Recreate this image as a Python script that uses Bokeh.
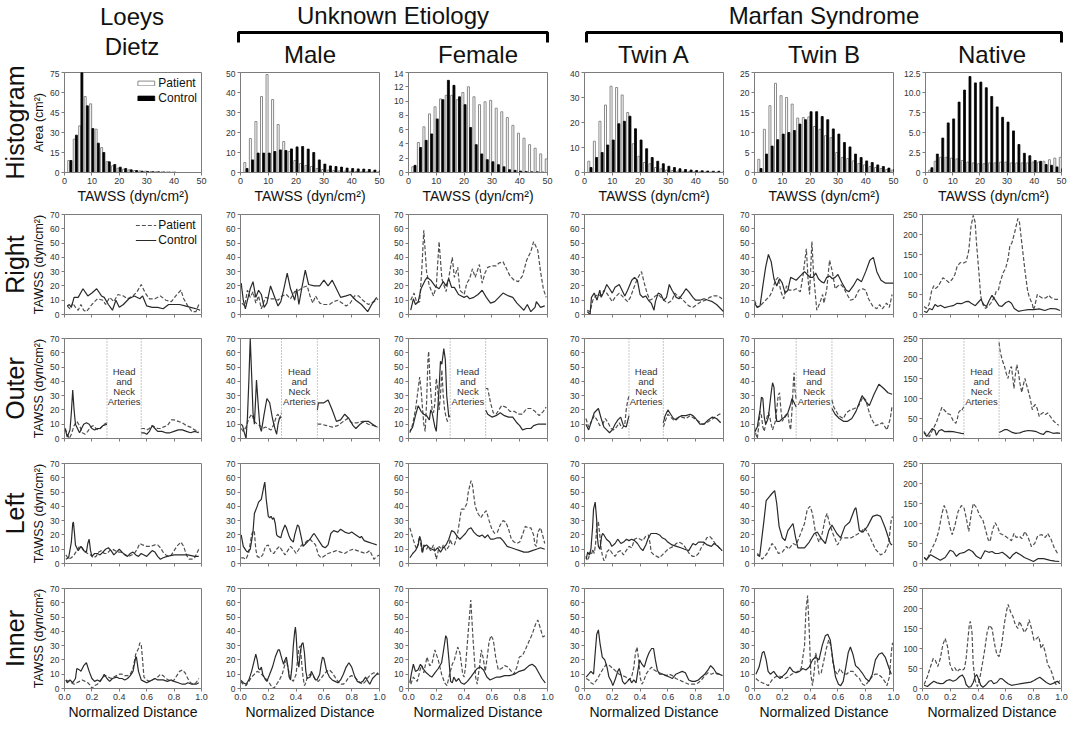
import math
from bokeh.plotting import figure
from bokeh.layouts import row, column
from bokeh.models import Range1d, FixedTicker, Span, Legend, LegendItem, PrintfTickFormatter
from bokeh.embed import file_html
from bokeh.resources import INLINE
from bokeh.core.properties import value

FONT = "Liberation Sans"

# ---------------------------------------------------------------- text
col_titles = ["Loeys Dietz", "Male", "Female", "Twin A", "Twin B", "Native"]
group_titles = ["Unknown Etiology", "Marfan Syndrome"]
row_titles = ["Histogram", "Right", "Outer", "Left", "Inner"]
series_names = ["Patient", "Control"]
hist_xlabel = "TAWSS (dyn/cm\u00b2)"
hist_ylabel = "Area (cm\u00b2)"
line_ylabel = "TAWSS (dyn/cm\u00b2)"
line_xlabel = "Normalized Distance"
gap_label = ["Head", "and", "Neck", "Arteries"]

# ---------------------------------------------------------------- histograms
tawss_bins = [2, 4, 6, 8, 10, 12, 14, 16, 18, 20, 22, 24, 26, 28, 30,
              32, 34, 36, 38, 40, 42, 44, 46, 48, 50]
hist_xticks = [0, 10, 20, 30, 40, 50]

hist_ld_patient = [9, 25, 35, 57, 51.5, 32.5, 18.7, 8.2, 5, 3.2, 2.5, 2, 1.5, 1.2, 1,
                   0.8, 0.6, 0.5, 0.4, 0.3, 0, 0, 0, 0, 0]
hist_ld_control = [9, 28, 75, 50, 33, 22, 15, 8, 6, 4, 3, 2, 1.5, 1, 0.8,
                   0.6, 0.5, 0.4, 0.3, 0.2, 0, 0, 0, 0, 0]
hist_male_patient = [5, 17, 25.5, 38, 49, 36.5, 24, 15.5, 10.5, 6, 4.5, 3.5, 3, 2, 1.5,
                     1.2, 1, 0.8, 0.7, 0.6, 0.5, 0.4, 0.4, 0.3, 0.3]
hist_male_control = [2, 6.3, 9.7, 9.7, 9.7, 10.5, 11.3, 11, 11.8, 12.8, 13, 11.7, 10, 6.3, 4.2,
                     3.3, 3, 2.7, 2.2, 2, 1.8, 1.7, 1.5, 1.2, 1.0]
hist_female_patient = [0.8, 4.2, 6.4, 8.2, 9.2, 10.3, 10.8, 10.8, 10.2, 11.2, 12, 10.6, 9.5, 9.9, 10.1,
                       9, 8.5, 7.7, 6.6, 5.5, 4.8, 3.9, 3.4, 2.6, 1.9]
hist_female_control = [1, 3.5, 4.5, 5.4, 7.5, 10.2, 12.9, 12.2, 10.6, 9.5, 6.3, 3.9, 2.6, 1.8, 1.5,
                       1.1, 0.8, 0.4, 0.3, 0.2, 0.15, 0.1, 0.1, 0.05, 0]
hist_twina_patient = [4.5, 12.5, 20.5, 27, 34.5, 34, 31, 24, 11.5, 6.5, 4, 3.5, 2, 1.5, 1,
                      0.8, 0.6, 0.5, 0.4, 0.3, 0.3, 0.2, 0.2, 0.1, 0.1]
hist_twina_control = [2, 6, 8, 11, 13, 19.5, 20.5, 22.5, 17.5, 13, 9.5, 6, 4.5, 3.5, 2.5,
                      2, 1.5, 1.2, 1, 0.8, 0.7, 0.6, 0.5, 0.5, 0.4]
hist_twinb_patient = [3.3, 10.8, 16.7, 22.3, 19.2, 18.75, 17.1, 13.6, 13.75, 13.9, 11.5, 10.8, 9.2, 8.7, 5,
                      3.75, 3.5, 2.9, 2.25, 1.9, 1.5, 1.25, 1, 0.75, 0.6]
hist_twinb_control = [1, 4.6, 6.6, 8.2, 9.6, 10, 10.5, 12.1, 13.2, 15.2, 15.2, 14, 13.2, 10.9, 9.6,
                      7.5, 6.4, 4.6, 3.75, 2.9, 2.5, 1.9, 1.5, 1.1, 0.8]
hist_native_patient = [0.3, 1.4, 1.9, 1.9, 1.8, 1.7, 1.5, 1.3, 1.2, 1.1, 1.1, 1.2, 1.2, 1.3, 1.3,
                       1.2, 1.2, 1.2, 1.2, 1.3, 1.3, 1.4, 1.6, 1.8, 1.9]
hist_native_control = [0.6, 2.3, 4.3, 6.2, 6.7, 8.8, 10.3, 12.0, 11.2, 11.3, 10.6, 9.5, 8.2, 6.9, 6.3,
                       5.2, 3.5, 2.4, 2.1, 1.5, 1.4, 1.0, 0.9, 0.7, 0.5]

hist_ymax = [75, 50, 14, 40, 25, 12.5]
hist_yticks = [[0, 15, 30, 45, 60, 75], [0, 10, 20, 30, 40, 50],
               [0, 2, 4, 6, 8, 10, 12, 14], [0, 10, 20, 30, 40],
               [0, 5, 10, 15, 20, 25], [0, 2.5, 5, 7.5, 10, 12.5]]

# ---------------------------------------------------------------- profiles
dist_xticks = [0, 0.2, 0.4, 0.6, 0.8, 1.0]
line_ymax = [70, 70, 70, 70, 70, 250]
line_yticks = [[0, 10, 20, 30, 40, 50, 60, 70]] * 5 + [[0, 50, 100, 150, 200, 250]]
gap_start = [0.31, 0.295, 0.30, 0.32, 0.30, 0.298]
gap_end = [0.56, 0.553, 0.555, 0.567, 0.557, 0.551]

# Right
right_ld_pat = [(0.02,6),(0.04,4),(0.06,8),(0.08,5),(0.1,3),(0.12,7),(0.14,3),(0.16,2),(0.2,7),(0.24,11),(0.28,10),(0.3,7),(0.33,12),(0.36,9),(0.39,14),(0.43,13),(0.46,11),(0.5,13),(0.53,16),(0.56,21),(0.59,15),(0.62,11),(0.66,11),(0.7,13),(0.74,10),(0.78,9),(0.82,14),(0.85,17),(0.87,11),(0.9,6),(0.93,2),(0.96,2),(0.98,7)]
right_ld_ctl = [(0.02,6),(0.035,7),(0.05,5),(0.07,12),(0.1,12),(0.135,18),(0.17,13),(0.2,15),(0.235,18),(0.27,13),(0.29,12),(0.32,7),(0.35,3),(0.375,10),(0.4,5),(0.43,7),(0.47,11),(0.51,13),(0.55,11),(0.57,13),(0.6,6),(0.64,5),(0.68,5),(0.72,4),(0.76,7),(0.8,7),(0.84,7),(0.88,6),(0.92,5),(0.96,4),(0.99,3)]
right_male_pat = [(0.01,8),(0.03,6),(0.05,17),(0.07,12),(0.09,16),(0.11,8),(0.13,13),(0.15,4),(0.18,12),(0.21,11),(0.24,11),(0.27,10),(0.3,13),(0.33,14),(0.36,11),(0.39,16),(0.42,17),(0.45,19),(0.48,20),(0.5,13),(0.52,8),(0.54,13),(0.57,8),(0.6,7),(0.64,7),(0.67,9),(0.7,10),(0.73,8),(0.76,6),(0.79,8),(0.82,13),(0.85,13),(0.88,10),(0.92,7),(0.96,9),(0.99,11)]
right_male_ctl = [(0.005,22),(0.02,10),(0.035,4),(0.05,10),(0.07,18),(0.09,23),(0.11,12),(0.13,17),(0.15,14),(0.17,5),(0.19,8),(0.216,20),(0.25,11),(0.27,6),(0.29,9),(0.31,17),(0.336,29),(0.36,18),(0.39,10),(0.405,18),(0.42,7),(0.44,18),(0.466,31),(0.49,21),(0.53,20),(0.57,20),(0.6,24),(0.63,20),(0.66,24),(0.69,18),(0.72,12),(0.76,13),(0.79,14),(0.83,10),(0.87,7),(0.915,2),(0.95,8),(0.98,12)]
right_female_pat = [(0.016,10),(0.04,15),(0.06,8),(0.08,9),(0.095,30),(0.11,59),(0.13,30),(0.15,20),(0.18,13),(0.2,20),(0.22,51),(0.24,25),(0.27,16),(0.29,26),(0.315,40),(0.33,26),(0.354,33),(0.37,17),(0.4,14),(0.42,22),(0.44,25),(0.46,32),(0.48,26),(0.51,35),(0.53,22),(0.55,29),(0.57,33),(0.6,34),(0.63,34),(0.65,36),(0.68,37),(0.7,33),(0.73,27),(0.76,24),(0.79,23),(0.82,27),(0.85,38),(0.88,44),(0.9,51),(0.93,45),(0.95,30),(0.97,18),(0.99,12)]
right_female_ctl = [(0.016,3),(0.035,11),(0.05,7),(0.07,9),(0.09,18),(0.12,24),(0.135,26),(0.16,24),(0.19,20),(0.22,18),(0.25,23),(0.27,20),(0.29,25),(0.31,19),(0.33,19),(0.36,14),(0.38,13),(0.4,12),(0.42,13),(0.44,11),(0.47,12),(0.5,14),(0.53,17),(0.56,12),(0.59,8),(0.62,9),(0.65,12),(0.68,15),(0.72,13),(0.75,12),(0.78,8),(0.81,5),(0.83,3),(0.855,7),(0.88,2),(0.91,5),(0.92,9),(0.95,5),(0.98,6)]
right_twina_pat = [(0.02,3),(0.04,2),(0.06,10),(0.08,13),(0.1,14),(0.12,13),(0.14,17),(0.16,15),(0.18,12),(0.2,9),(0.22,12),(0.25,15),(0.27,13),(0.29,11),(0.31,9),(0.33,12),(0.36,20),(0.38,25),(0.41,30),(0.43,22),(0.45,15),(0.47,10),(0.49,11),(0.51,13),(0.53,14),(0.55,12),(0.57,10),(0.6,8),(0.63,10),(0.65,15),(0.67,13),(0.7,11),(0.72,9),(0.75,6),(0.78,5),(0.81,7),(0.84,9),(0.87,10),(0.9,12),(0.93,13),(0.96,13),(0.99,11)]
right_twina_ctl = [(0.02,2),(0.04,0),(0.05,12),(0.07,15),(0.09,10),(0.11,17),(0.12,12),(0.14,16),(0.16,21),(0.18,18),(0.2,15),(0.22,19),(0.25,21),(0.27,17),(0.29,13),(0.31,17),(0.34,24),(0.36,26),(0.38,24),(0.4,14),(0.42,12),(0.44,13),(0.46,10),(0.48,8),(0.5,3),(0.51,9),(0.53,15),(0.55,14),(0.57,10),(0.59,12),(0.61,21),(0.63,17),(0.66,12),(0.68,11),(0.71,15),(0.73,18),(0.75,16),(0.78,12),(0.8,10),(0.83,10),(0.86,11),(0.89,10),(0.92,9),(0.95,7),(0.98,4),(1.0,2)]
right_twinb_pat = [(0.0,10),(0.02,5),(0.05,7),(0.08,10),(0.11,13),(0.13,17),(0.15,24),(0.17,26),(0.19,16),(0.21,11),(0.23,20),(0.25,17),(0.28,17),(0.3,18),(0.33,16),(0.35,28),(0.373,46),(0.385,25),(0.396,14),(0.413,51),(0.425,28),(0.448,3),(0.47,8),(0.49,14),(0.5,8),(0.52,18),(0.54,38),(0.56,30),(0.58,18),(0.6,20),(0.62,21),(0.64,19),(0.66,15),(0.69,10),(0.72,11),(0.75,17),(0.78,18),(0.8,17),(0.82,11),(0.85,6),(0.88,4),(0.9,7),(0.92,4),(0.95,8),(0.97,5),(0.99,14)]
right_twinb_ctl = [(0.0,8),(0.02,5),(0.04,6),(0.06,20),(0.08,33),(0.1,42),(0.12,37),(0.14,25),(0.16,20),(0.18,25),(0.2,22),(0.22,15),(0.24,17),(0.26,26),(0.28,25),(0.3,24),(0.33,27),(0.36,30),(0.38,28),(0.4,26),(0.42,26),(0.44,29),(0.46,25),(0.48,23),(0.5,22),(0.52,26),(0.54,27),(0.56,25),(0.58,26),(0.6,28),(0.63,22),(0.66,17),(0.68,16),(0.71,20),(0.74,25),(0.77,23),(0.8,30),(0.83,38),(0.855,40),(0.88,30),(0.91,24),(0.94,22),(0.97,22),(1.0,22)]
right_native_pat = [(0.012,20),(0.028,15),(0.047,25),(0.065,58),(0.081,72),(0.093,65),(0.112,70),(0.128,80),(0.147,92),(0.167,87),(0.19,80),(0.214,88),(0.233,100),(0.249,120),(0.272,130),(0.291,128),(0.314,132),(0.333,160),(0.349,220),(0.365,248),(0.379,230),(0.388,180),(0.407,100),(0.419,45),(0.435,25),(0.453,15),(0.477,22),(0.495,30),(0.519,45),(0.53,58),(0.547,62),(0.558,80),(0.581,105),(0.598,115),(0.616,140),(0.628,170),(0.644,180),(0.663,205),(0.686,240),(0.698,230),(0.714,180),(0.737,110),(0.756,60),(0.767,45),(0.791,25),(0.798,12),(0.807,20),(0.826,50),(0.844,45),(0.867,40),(0.891,42),(0.907,48),(0.926,42),(0.953,38),(0.988,38)]
right_native_ctl = [(0.012,8),(0.03,5),(0.05,15),(0.07,12),(0.09,25),(0.11,20),(0.13,23),(0.16,17),(0.19,20),(0.22,22),(0.25,28),(0.28,27),(0.31,32),(0.33,33),(0.35,28),(0.38,22),(0.4,30),(0.42,38),(0.44,25),(0.46,20),(0.48,35),(0.5,48),(0.52,38),(0.55,22),(0.57,20),(0.6,30),(0.62,33),(0.64,28),(0.66,15),(0.69,8),(0.72,10),(0.76,12),(0.8,12),(0.84,14),(0.88,10),(0.92,15),(0.96,14),(0.99,10)]

# Outer (head and neck arteries gap between gap_start and gap_end)
outer_ld_pat = [(0.005,7),(0.02,3),(0.035,0),(0.05,3),(0.07,9),(0.09,12),(0.11,9),(0.13,4),(0.15,3),(0.17,5),(0.19,8),(0.21,9),(0.23,7),(0.25,6),(0.27,8),(0.29,10),(0.31,11),(0.56,7),(0.58,7),(0.6,6),(0.62,7),(0.64,9),(0.66,8),(0.68,7),(0.7,7),(0.72,8),(0.75,9),(0.78,13),(0.8,13),(0.83,12),(0.86,11),(0.89,9),(0.92,8),(0.95,6),(0.98,5)]
outer_ld_ctl = [(0.005,7),(0.02,1),(0.04,6),(0.05,18),(0.06,34),(0.07,20),(0.08,10),(0.1,6),(0.11,4),(0.13,8),(0.14,10),(0.16,11),(0.18,10),(0.2,7),(0.22,6),(0.24,7),(0.26,7),(0.28,9),(0.31,10),(0.56,4),(0.58,4),(0.6,3),(0.62,5),(0.64,9),(0.66,7),(0.68,5),(0.71,5),(0.74,4),(0.77,4),(0.8,5),(0.83,6),(0.86,6),(0.89,5),(0.92,4),(0.95,5),(0.98,4)]
outer_male_pat = [(0.005,7),(0.02,5),(0.04,8),(0.06,14),(0.08,17),(0.1,12),(0.12,10),(0.14,9),(0.16,7),(0.18,8),(0.2,7),(0.22,6),(0.24,10),(0.26,16),(0.27,17),(0.28,14),(0.295,18),(0.553,10),(0.58,10),(0.62,9),(0.66,8),(0.7,9),(0.74,12),(0.77,14),(0.8,11),(0.84,11),(0.88,12),(0.92,10),(0.96,9),(0.99,8)]
outer_male_ctl = [(0.005,10),(0.015,9),(0.025,5),(0.04,0),(0.05,15),(0.06,40),(0.07,70),(0.08,45),(0.09,18),(0.1,10),(0.11,30),(0.115,41),(0.13,20),(0.14,8),(0.15,5),(0.17,17),(0.19,28),(0.21,25),(0.23,14),(0.25,6),(0.26,3),(0.27,10),(0.28,14),(0.295,15),(0.553,20),(0.56,25),(0.6,25),(0.63,27),(0.66,20),(0.69,12),(0.72,13),(0.75,17),(0.78,14),(0.81,9),(0.83,7),(0.86,10),(0.89,12),(0.92,12),(0.95,10),(0.98,8)]
outer_female_pat = [(0.01,4),(0.03,10),(0.05,20),(0.07,35),(0.08,43),(0.09,35),(0.1,22),(0.11,10),(0.12,5),(0.13,25),(0.14,55),(0.145,61),(0.155,40),(0.17,20),(0.18,18),(0.19,25),(0.2,42),(0.21,35),(0.22,20),(0.23,30),(0.24,48),(0.25,30),(0.26,20),(0.27,15),(0.28,12),(0.3,13),(0.555,35),(0.57,35),(0.59,25),(0.61,18),(0.63,17),(0.65,20),(0.67,23),(0.7,22),(0.73,19),(0.76,19),(0.79,17),(0.82,17),(0.85,21),(0.88,21),(0.91,19),(0.94,16),(0.97,19),(0.99,22)]
outer_female_ctl = [(0.01,5),(0.03,8),(0.05,16),(0.07,23),(0.09,19),(0.11,17),(0.13,16),(0.15,13),(0.16,20),(0.17,18),(0.19,8),(0.2,5),(0.22,35),(0.23,54),(0.24,52),(0.254,63),(0.265,55),(0.275,30),(0.285,20),(0.29,15),(0.3,16),(0.555,20),(0.57,17),(0.6,15),(0.63,16),(0.66,18),(0.69,16),(0.72,15),(0.75,15),(0.78,11),(0.8,9),(0.82,6),(0.85,7),(0.88,7),(0.9,9),(0.93,10),(0.96,10),(0.99,10)]
outer_twina_pat = [(0.01,14),(0.03,8),(0.05,12),(0.07,16),(0.09,13),(0.11,9),(0.13,10),(0.15,14),(0.17,11),(0.19,7),(0.21,6),(0.23,8),(0.25,11),(0.27,7),(0.29,10),(0.3,20),(0.31,26),(0.32,30),(0.567,8),(0.58,12),(0.6,17),(0.62,15),(0.64,13),(0.66,14),(0.68,15),(0.7,15),(0.73,14),(0.76,16),(0.79,14),(0.82,12),(0.85,10),(0.88,11),(0.91,13),(0.94,15),(0.97,17),(0.99,17)]
outer_twina_ctl = [(0.01,10),(0.03,6),(0.05,12),(0.07,18),(0.1,21),(0.12,14),(0.14,8),(0.16,6),(0.18,4),(0.2,6),(0.22,10),(0.24,13),(0.26,15),(0.28,9),(0.3,8),(0.31,12),(0.32,16),(0.567,11),(0.58,16),(0.6,20),(0.62,17),(0.64,14),(0.66,13),(0.68,15),(0.7,16),(0.73,16),(0.76,17),(0.78,16),(0.8,14),(0.83,10),(0.86,10),(0.89,13),(0.92,15),(0.95,14),(0.98,11)]
outer_twinb_pat = [(0.0,8),(0.01,3),(0.02,0),(0.03,8),(0.04,19),(0.05,16),(0.06,8),(0.07,5),(0.08,10),(0.09,15),(0.1,18),(0.11,15),(0.12,10),(0.13,6),(0.15,12),(0.16,20),(0.17,30),(0.18,32),(0.19,20),(0.2,12),(0.22,16),(0.24,18),(0.25,10),(0.26,6),(0.27,20),(0.28,40),(0.285,46),(0.29,35),(0.3,27),(0.557,27),(0.57,22),(0.6,17),(0.62,15),(0.64,14),(0.66,18),(0.69,20),(0.72,21),(0.75,23),(0.78,29),(0.8,27),(0.82,20),(0.84,14),(0.87,9),(0.9,10),(0.92,11),(0.953,6),(0.977,14),(0.99,23)]
outer_twinb_ctl = [(0.0,4),(0.02,8),(0.04,20),(0.05,29),(0.06,28),(0.07,15),(0.08,10),(0.09,12),(0.1,15),(0.12,32),(0.13,39),(0.14,36),(0.15,20),(0.16,12),(0.18,12),(0.2,14),(0.22,15),(0.24,18),(0.26,24),(0.27,28),(0.28,26),(0.3,22),(0.557,21),(0.58,17),(0.61,14),(0.64,12),(0.67,12),(0.7,14),(0.73,19),(0.75,24),(0.774,30),(0.8,26),(0.826,23),(0.86,31),(0.895,38),(0.93,35),(0.96,32),(0.99,31)]
outer_native_pat = [(0.01,18),(0.03,8),(0.05,5),(0.07,20),(0.1,40),(0.12,60),(0.14,78),(0.16,70),(0.18,62),(0.2,60),(0.22,45),(0.24,38),(0.25,48),(0.26,65),(0.27,70),(0.28,68),(0.29,75),(0.298,80),(0.551,240),(0.56,215),(0.575,195),(0.59,180),(0.605,160),(0.615,150),(0.63,175),(0.64,180),(0.65,150),(0.658,125),(0.668,160),(0.679,185),(0.69,165),(0.7,140),(0.714,115),(0.726,135),(0.737,150),(0.748,135),(0.76,120),(0.775,100),(0.79,72),(0.8,80),(0.812,85),(0.825,75),(0.84,55),(0.855,62),(0.87,65),(0.885,60),(0.9,64),(0.92,55),(0.94,45),(0.96,38),(0.98,33)]
outer_native_ctl = [(0.01,15),(0.03,5),(0.05,15),(0.07,25),(0.09,20),(0.1,8),(0.12,20),(0.14,22),(0.16,17),(0.19,18),(0.22,17),(0.25,15),(0.28,13),(0.298,12),(0.551,15),(0.57,18),(0.59,22),(0.61,22),(0.64,16),(0.67,13),(0.7,14),(0.73,18),(0.76,20),(0.79,19),(0.82,17),(0.85,12),(0.87,10),(0.89,18),(0.91,17),(0.94,13),(0.97,14),(0.99,13)]

# Left
left_ld_pat = [(0.01,6),(0.03,3),(0.05,4),(0.07,6),(0.09,9),(0.11,12),(0.13,11),(0.15,8),(0.17,7),(0.19,6),(0.21,4),(0.23,5),(0.25,8),(0.27,9),(0.29,7),(0.31,7),(0.33,9),(0.35,10),(0.37,9),(0.39,8),(0.41,8),(0.43,7),(0.45,6),(0.47,5),(0.49,6),(0.51,7),(0.53,10),(0.55,14),(0.57,13),(0.6,12),(0.63,12),(0.66,13),(0.68,13),(0.7,11),(0.72,8),(0.74,6),(0.76,5),(0.78,6),(0.8,9),(0.82,12),(0.85,15),(0.87,12),(0.89,6),(0.91,3),(0.93,3),(0.95,4),(0.97,8),(0.98,10)]
left_ld_ctl = [(0.01,3),(0.03,4),(0.05,15),(0.06,28),(0.065,29),(0.072,22),(0.08,13),(0.1,9),(0.12,12),(0.14,9),(0.16,8),(0.17,14),(0.18,17),(0.19,9),(0.2,5),(0.22,7),(0.24,7),(0.26,6),(0.28,8),(0.3,10),(0.32,11),(0.34,9),(0.36,6),(0.38,8),(0.4,10),(0.42,8),(0.44,6),(0.46,5),(0.48,7),(0.5,8),(0.52,6),(0.54,5),(0.56,7),(0.58,6),(0.6,5),(0.62,7),(0.64,9),(0.66,8),(0.68,5),(0.7,3),(0.72,4),(0.75,5),(0.8,6),(0.85,6),(0.9,6),(0.95,5),(0.98,5)]
left_male_pat = [(0.005,4),(0.02,4),(0.04,3),(0.06,8),(0.08,20),(0.09,23),(0.1,22),(0.11,10),(0.12,5),(0.14,4),(0.16,6),(0.18,12),(0.2,13),(0.22,8),(0.24,7),(0.26,10),(0.28,12),(0.3,9),(0.32,6),(0.34,9),(0.36,12),(0.38,10),(0.4,7),(0.42,10),(0.44,13),(0.46,14),(0.48,16),(0.5,17),(0.52,15),(0.54,13),(0.56,6),(0.58,4),(0.6,5),(0.63,7),(0.66,8),(0.69,9),(0.72,8),(0.75,7),(0.78,9),(0.81,10),(0.84,9),(0.87,8),(0.9,7),(0.93,9),(0.96,3),(0.98,5),(1.0,6)]
left_male_ctl = [(0.005,20),(0.02,12),(0.04,9),(0.05,8),(0.07,10),(0.09,22),(0.1,35),(0.12,40),(0.13,43),(0.15,45),(0.17,55),(0.175,57),(0.185,45),(0.2,33),(0.21,32),(0.22,33),(0.23,31),(0.24,32),(0.25,28),(0.26,20),(0.27,19),(0.29,18),(0.3,22),(0.32,27),(0.33,25),(0.35,19),(0.36,17),(0.38,15),(0.39,20),(0.41,27),(0.42,26),(0.44,17),(0.45,12),(0.47,14),(0.49,16),(0.5,17),(0.52,20),(0.53,21),(0.55,18),(0.57,15),(0.59,12),(0.61,11),(0.63,13),(0.65,21),(0.67,23),(0.7,22),(0.72,24),(0.75,22),(0.78,21),(0.8,22),(0.83,20),(0.86,18),(0.87,19),(0.89,16),(0.92,15),(0.95,14),(0.98,13)]
left_female_pat = [(0.01,25),(0.03,18),(0.05,12),(0.06,10),(0.07,15),(0.08,19),(0.09,12),(0.1,7),(0.11,13),(0.13,10),(0.14,12),(0.16,9),(0.18,13),(0.2,3),(0.21,7),(0.22,12),(0.24,10),(0.25,13),(0.27,9),(0.29,12),(0.3,17),(0.31,14),(0.33,13),(0.35,19),(0.36,25),(0.38,38),(0.4,38),(0.42,42),(0.43,50),(0.45,58),(0.46,55),(0.48,40),(0.5,35),(0.52,32),(0.54,35),(0.56,37),(0.58,30),(0.6,24),(0.62,21),(0.64,22),(0.66,27),(0.68,30),(0.7,29),(0.72,24),(0.74,17),(0.76,15),(0.78,14),(0.8,15),(0.82,20),(0.84,26),(0.86,25),(0.88,25),(0.9,20),(0.91,13),(0.92,12),(0.93,22),(0.95,25),(0.97,18),(0.98,14)]
left_female_ctl = [(0.01,4),(0.03,7),(0.05,9),(0.07,13),(0.08,19),(0.09,16),(0.1,8),(0.11,12),(0.13,13),(0.15,11),(0.17,10),(0.19,9),(0.21,11),(0.23,8),(0.25,11),(0.27,13),(0.29,17),(0.31,23),(0.33,22),(0.35,19),(0.37,17),(0.39,19),(0.41,21),(0.43,24),(0.45,25),(0.47,22),(0.49,20),(0.51,19),(0.53,20),(0.55,18),(0.57,20),(0.59,17),(0.61,17),(0.64,18),(0.66,18),(0.68,16),(0.71,12),(0.74,11),(0.77,10),(0.8,9),(0.83,8),(0.86,8),(0.89,9),(0.92,10),(0.95,11),(0.98,10)]
left_twina_pat = [(0.01,5),(0.02,2),(0.03,4),(0.04,8),(0.05,6),(0.06,10),(0.07,7),(0.08,14),(0.09,29),(0.1,29),(0.11,20),(0.12,10),(0.13,5),(0.14,2),(0.15,3),(0.16,8),(0.18,10),(0.2,7),(0.22,5),(0.24,8),(0.26,9),(0.28,6),(0.3,9),(0.32,12),(0.34,11),(0.36,17),(0.38,18),(0.4,17),(0.42,16),(0.44,19),(0.46,20),(0.47,15),(0.48,8),(0.5,6),(0.52,5),(0.54,4),(0.56,6),(0.58,8),(0.6,10),(0.62,11),(0.64,12),(0.66,14),(0.68,15),(0.7,14),(0.72,12),(0.74,9),(0.76,6),(0.78,5),(0.8,5),(0.82,7),(0.84,11),(0.86,14),(0.88,18),(0.9,19),(0.92,17),(0.94,14),(0.96,12),(0.98,10),(0.99,9)]
left_twina_ctl = [(0.012,3),(0.023,8),(0.035,6),(0.046,10),(0.058,25),(0.065,38),(0.077,43),(0.088,30),(0.093,18),(0.1,12),(0.111,10),(0.123,19),(0.13,21),(0.14,20),(0.158,17),(0.181,15),(0.197,12),(0.22,14),(0.239,17),(0.262,14),(0.281,15),(0.302,17),(0.32,16),(0.339,17),(0.36,16),(0.381,14),(0.401,11),(0.42,9),(0.441,13),(0.46,18),(0.478,21),(0.499,21),(0.517,21),(0.54,20),(0.559,18),(0.58,17),(0.599,15),(0.63,13),(0.662,12),(0.693,11),(0.72,10),(0.75,9),(0.78,14),(0.8,13),(0.82,15),(0.855,15),(0.883,13),(0.913,12),(0.932,14),(0.96,12),(0.99,9)]
left_twinb_pat = [(0.02,7),(0.056,3),(0.09,7),(0.126,14),(0.145,12),(0.172,7),(0.2,8),(0.23,12),(0.247,10),(0.277,14),(0.3,13),(0.324,19),(0.36,28),(0.38,38),(0.4,40),(0.417,35),(0.44,21),(0.464,15),(0.487,21),(0.51,32),(0.522,35),(0.54,28),(0.564,21),(0.597,13),(0.627,18),(0.662,18),(0.697,18),(0.73,20),(0.767,22),(0.79,25),(0.813,22),(0.837,17),(0.87,10),(0.907,6),(0.94,8),(0.965,14),(0.983,30),(0.993,33)]
left_twinb_ctl = [(0.02,6),(0.037,5),(0.068,30),(0.084,44),(0.1,46),(0.126,49),(0.145,51),(0.16,42),(0.177,26),(0.2,18),(0.22,16),(0.24,23),(0.277,28),(0.294,19),(0.312,11),(0.36,11),(0.394,15),(0.43,21),(0.452,22),(0.476,18),(0.51,14),(0.534,23),(0.557,27),(0.592,21),(0.62,18),(0.65,26),(0.685,29),(0.72,38),(0.73,39),(0.755,23),(0.78,22),(0.813,26),(0.85,33),(0.884,34),(0.907,33),(0.94,25),(0.977,14),(0.99,13)]
left_native_pat = [(0.012,15),(0.03,8),(0.058,30),(0.093,55),(0.116,80),(0.14,125),(0.156,145),(0.174,130),(0.198,90),(0.214,72),(0.233,95),(0.256,130),(0.28,145),(0.298,140),(0.314,115),(0.333,80),(0.349,120),(0.365,150),(0.388,140),(0.412,120),(0.435,108),(0.453,85),(0.472,60),(0.486,55),(0.505,85),(0.523,102),(0.542,90),(0.558,75),(0.588,70),(0.616,63),(0.64,57),(0.658,75),(0.674,65),(0.698,68),(0.714,62),(0.737,80),(0.76,65),(0.784,42),(0.807,50),(0.83,70),(0.86,72),(0.884,65),(0.9,75),(0.923,62),(0.947,40),(0.977,22)]
left_native_ctl = [(0.012,15),(0.03,10),(0.058,22),(0.093,15),(0.128,8),(0.163,15),(0.198,33),(0.22,30),(0.244,18),(0.267,25),(0.302,28),(0.333,35),(0.36,30),(0.388,18),(0.419,12),(0.449,32),(0.477,28),(0.5,30),(0.523,25),(0.547,25),(0.574,28),(0.605,20),(0.628,12),(0.651,22),(0.674,28),(0.705,22),(0.733,15),(0.767,10),(0.798,5),(0.83,12),(0.872,12),(0.919,8),(0.953,6),(0.984,5)]

# Inner
inner_ld_pat = [(0.01,6),(0.03,5),(0.05,4),(0.07,3),(0.09,4),(0.11,5),(0.13,6),(0.15,5),(0.17,4),(0.19,2),(0.2,0),(0.22,2),(0.24,3),(0.26,5),(0.28,8),(0.3,9),(0.32,8),(0.34,7),(0.36,8),(0.38,9),(0.4,10),(0.42,10),(0.44,9),(0.46,9),(0.48,10),(0.5,14),(0.52,24),(0.54,28),(0.55,32),(0.56,31),(0.57,20),(0.58,8),(0.6,6),(0.62,5),(0.64,6),(0.66,7),(0.68,8),(0.7,10),(0.72,9),(0.74,7),(0.76,6),(0.78,5),(0.8,6),(0.82,9),(0.84,12),(0.86,13),(0.88,11),(0.9,7),(0.92,4),(0.94,3),(0.96,4),(0.98,7)]
inner_ld_ctl = [(0.01,6),(0.02,4),(0.04,6),(0.06,4),(0.08,7),(0.09,14),(0.11,13),(0.12,12),(0.14,16),(0.16,18),(0.18,12),(0.2,7),(0.22,5),(0.24,6),(0.26,5),(0.28,8),(0.29,10),(0.31,7),(0.33,5),(0.35,7),(0.38,8),(0.4,7),(0.42,7),(0.44,6),(0.46,7),(0.48,9),(0.5,12),(0.52,22),(0.525,22),(0.54,12),(0.56,6),(0.58,5),(0.6,4),(0.62,5),(0.64,6),(0.66,7),(0.68,6),(0.7,6),(0.72,6),(0.75,5),(0.78,6),(0.8,5),(0.83,4),(0.86,3),(0.88,3),(0.9,4),(0.93,3),(0.96,3),(0.98,4)]
inner_male_pat = [(0.0,5),(0.02,3),(0.04,2),(0.06,5),(0.08,8),(0.1,10),(0.12,12),(0.14,11),(0.16,9),(0.18,7),(0.2,5),(0.22,2),(0.24,0),(0.26,3),(0.28,6),(0.3,10),(0.32,17),(0.33,20),(0.34,15),(0.36,7),(0.38,5),(0.4,10),(0.41,20),(0.42,28),(0.43,30),(0.44,18),(0.45,8),(0.46,2),(0.47,4),(0.48,8),(0.5,10),(0.52,9),(0.54,6),(0.56,5),(0.58,7),(0.6,10),(0.62,12),(0.64,13),(0.66,11),(0.68,8),(0.7,5),(0.72,3),(0.74,3),(0.76,5),(0.78,8),(0.8,9),(0.82,8),(0.84,6),(0.86,4),(0.88,3),(0.9,5),(0.92,8),(0.94,10),(0.96,11),(0.98,10),(1.0,10)]
inner_male_ctl = [(0.0,6),(0.02,4),(0.04,3),(0.06,6),(0.08,12),(0.1,20),(0.11,24),(0.12,20),(0.13,14),(0.14,13),(0.15,15),(0.16,10),(0.18,6),(0.19,5),(0.21,10),(0.23,15),(0.25,22),(0.27,27),(0.28,27),(0.3,20),(0.31,17),(0.32,20),(0.33,22),(0.34,16),(0.35,8),(0.36,6),(0.37,15),(0.38,30),(0.39,40),(0.395,43),(0.4,38),(0.41,20),(0.42,15),(0.43,25),(0.44,31),(0.45,32),(0.46,25),(0.47,12),(0.48,7),(0.5,8),(0.51,12),(0.52,10),(0.54,6),(0.55,6),(0.57,10),(0.58,17),(0.59,22),(0.6,21),(0.62,12),(0.64,8),(0.66,6),(0.68,5),(0.7,4),(0.72,6),(0.74,10),(0.76,15),(0.78,18),(0.8,15),(0.82,9),(0.84,5),(0.86,4),(0.88,5),(0.9,8),(0.91,6),(0.93,3),(0.95,7),(0.97,9),(0.99,11)]
inner_female_pat = [(0.016,3),(0.035,8),(0.05,6),(0.063,5),(0.086,14),(0.098,16),(0.11,11),(0.133,22),(0.152,16),(0.168,17),(0.19,27),(0.214,20),(0.238,10),(0.26,4),(0.277,2),(0.296,10),(0.315,17),(0.33,20),(0.354,29),(0.37,25),(0.39,10),(0.4,8),(0.41,15),(0.43,40),(0.448,62),(0.464,35),(0.483,8),(0.494,3),(0.51,15),(0.524,27),(0.536,22),(0.552,12),(0.564,20),(0.58,33),(0.594,37),(0.61,34),(0.627,22),(0.646,13),(0.67,14),(0.692,16),(0.716,15),(0.74,12),(0.758,10),(0.78,15),(0.797,22),(0.82,23),(0.844,28),(0.867,33),(0.89,38),(0.914,45),(0.93,48),(0.949,42),(0.967,36),(0.984,37),(0.995,37)]
inner_female_ctl = [(0.01,4),(0.02,10),(0.035,17),(0.05,12),(0.068,13),(0.086,17),(0.105,14),(0.128,11),(0.152,9),(0.168,8),(0.19,11),(0.214,14),(0.238,18),(0.254,28),(0.268,37),(0.277,35),(0.291,20),(0.303,5),(0.315,4),(0.326,8),(0.343,5),(0.361,7),(0.378,4),(0.4,3),(0.424,5),(0.448,8),(0.47,11),(0.494,14),(0.517,15),(0.54,13),(0.564,8),(0.587,6),(0.61,7),(0.634,8),(0.657,8),(0.692,9),(0.727,9),(0.762,10),(0.797,12),(0.832,13),(0.867,16),(0.89,17),(0.914,15),(0.937,11),(0.96,7),(0.984,4)]
inner_twina_pat = [(0.012,7),(0.03,6),(0.046,4),(0.065,3),(0.088,6),(0.111,10),(0.135,14),(0.158,17),(0.181,16),(0.204,14),(0.227,12),(0.25,10),(0.274,9),(0.297,8),(0.32,6),(0.339,8),(0.355,15),(0.367,25),(0.378,29),(0.39,20),(0.4,8),(0.413,3),(0.425,5),(0.443,10),(0.464,13),(0.483,15),(0.501,13),(0.517,12),(0.54,11),(0.564,10),(0.587,9),(0.61,10),(0.633,9),(0.657,7),(0.68,6),(0.703,5),(0.726,4),(0.75,3),(0.773,3),(0.796,3),(0.819,4),(0.842,6),(0.865,9),(0.889,11),(0.912,10),(0.935,11),(0.958,10),(0.981,10)]
inner_twina_ctl = [(0.012,8),(0.03,10),(0.046,12),(0.065,10),(0.077,25),(0.088,38),(0.1,41),(0.111,32),(0.128,22),(0.146,20),(0.162,15),(0.176,8),(0.193,5),(0.204,2),(0.223,7),(0.239,12),(0.25,14),(0.262,10),(0.274,5),(0.29,3),(0.309,5),(0.325,7),(0.339,4),(0.355,6),(0.371,4),(0.385,13),(0.397,20),(0.413,17),(0.43,15),(0.448,21),(0.464,25),(0.483,28),(0.497,28),(0.51,20),(0.524,13),(0.54,10),(0.564,10),(0.587,9),(0.61,8),(0.633,7),(0.657,10),(0.68,11),(0.703,12),(0.726,11),(0.75,6),(0.773,5),(0.796,5),(0.819,6),(0.842,8),(0.865,10),(0.889,13),(0.907,16),(0.928,14),(0.947,11),(0.97,10),(0.993,9)]
inner_twinb_pat = [(0.01,7),(0.033,5),(0.056,4),(0.08,3),(0.1,2),(0.126,6),(0.149,8),(0.172,9),(0.196,8),(0.22,7),(0.243,8),(0.266,10),(0.29,11),(0.312,12),(0.336,14),(0.36,30),(0.37,55),(0.382,65),(0.394,40),(0.405,10),(0.417,2),(0.43,12),(0.44,25),(0.452,20),(0.464,10),(0.48,11),(0.5,20),(0.517,28),(0.534,34),(0.55,30),(0.564,18),(0.58,12),(0.597,10),(0.615,14),(0.634,11),(0.662,10),(0.685,12),(0.708,12),(0.732,9),(0.755,7),(0.778,3),(0.797,2),(0.82,5),(0.844,8),(0.867,10),(0.89,10),(0.914,8),(0.937,5),(0.953,2),(0.97,8),(0.984,25),(0.993,32)]
inner_twinb_ctl = [(0.01,10),(0.033,15),(0.056,25),(0.068,26),(0.084,20),(0.098,12),(0.114,10),(0.138,12),(0.16,9),(0.184,7),(0.207,9),(0.23,11),(0.254,15),(0.277,12),(0.3,11),(0.324,12),(0.347,14),(0.37,13),(0.394,15),(0.417,20),(0.44,22),(0.464,20),(0.487,30),(0.51,37),(0.527,38),(0.545,34),(0.564,20),(0.583,8),(0.604,3),(0.62,2),(0.638,5),(0.657,15),(0.674,25),(0.69,29),(0.708,24),(0.727,16),(0.75,14),(0.774,11),(0.8,7),(0.825,5),(0.848,10),(0.87,20),(0.895,24),(0.918,25),(0.94,22),(0.965,15),(0.984,10)]
inner_native_pat = [(0.012,10),(0.035,30),(0.058,55),(0.077,75),(0.093,70),(0.11,55),(0.128,75),(0.147,110),(0.163,125),(0.18,105),(0.198,60),(0.216,45),(0.233,52),(0.249,42),(0.267,48),(0.286,45),(0.302,50),(0.314,75),(0.326,120),(0.337,160),(0.344,168),(0.356,140),(0.365,60),(0.379,20),(0.395,5),(0.412,25),(0.43,60),(0.449,100),(0.465,140),(0.481,158),(0.5,150),(0.519,110),(0.535,85),(0.551,80),(0.57,110),(0.588,160),(0.605,195),(0.616,210),(0.635,190),(0.651,180),(0.667,160),(0.686,150),(0.698,168),(0.714,155),(0.733,140),(0.751,150),(0.767,172),(0.784,150),(0.802,120),(0.821,125),(0.837,130),(0.853,100),(0.867,110),(0.884,90),(0.9,60),(0.919,50),(0.93,40),(0.947,20),(0.96,10),(0.977,15),(0.988,20)]
inner_native_ctl = [(0.012,8),(0.035,5),(0.058,12),(0.081,18),(0.105,14),(0.128,12),(0.151,13),(0.174,20),(0.198,22),(0.22,18),(0.244,22),(0.267,30),(0.286,34),(0.302,25),(0.314,10),(0.333,3),(0.349,5),(0.365,15),(0.379,30),(0.39,35),(0.402,25),(0.419,8),(0.435,3),(0.453,8),(0.477,18),(0.495,20),(0.512,12),(0.535,15),(0.558,25),(0.574,24),(0.593,18),(0.616,12),(0.64,8),(0.674,10),(0.709,12),(0.744,14),(0.779,16),(0.802,20),(0.826,25),(0.844,28),(0.867,22),(0.891,15),(0.919,10),(0.947,14),(0.97,18),(0.988,12)]

# lookup tables built from the named arrays above
hist_data = [(hist_ld_patient, hist_ld_control), (hist_male_patient, hist_male_control),
             (hist_female_patient, hist_female_control), (hist_twina_patient, hist_twina_control),
             (hist_twinb_patient, hist_twinb_control), (hist_native_patient, hist_native_control)]
line_data = [
    [(right_ld_pat, right_ld_ctl), (right_male_pat, right_male_ctl), (right_female_pat, right_female_ctl),
     (right_twina_pat, right_twina_ctl), (right_twinb_pat, right_twinb_ctl), (right_native_pat, right_native_ctl)],
    [(outer_ld_pat, outer_ld_ctl), (outer_male_pat, outer_male_ctl), (outer_female_pat, outer_female_ctl),
     (outer_twina_pat, outer_twina_ctl), (outer_twinb_pat, outer_twinb_ctl), (outer_native_pat, outer_native_ctl)],
    [(left_ld_pat, left_ld_ctl), (left_male_pat, left_male_ctl), (left_female_pat, left_female_ctl),
     (left_twina_pat, left_twina_ctl), (left_twinb_pat, left_twinb_ctl), (left_native_pat, left_native_ctl)],
    [(inner_ld_pat, inner_ld_ctl), (inner_male_pat, inner_male_ctl), (inner_female_pat, inner_female_ctl),
     (inner_twina_pat, inner_twina_ctl), (inner_twinb_pat, inner_twinb_ctl), (inner_native_pat, inner_native_ctl)],
]

# ---------------------------------------------------------------- layout
PAGE_X0 = 8
STRIP_W = 29
FRAME_W = 139
COL_L = [33, 22, 22, 22, 22, 22]
COL_R = [17, 7, 15, 9, 7, 7]
COL_W = [l + FRAME_W + r for l, r in zip(COL_L, COL_R)]
ROW_H = [138, 124, 125, 125, 142]
ROW_TOP = [2, 6, 6, 6, 6]
FRAME_H = 100
HEADER_H = 70
GRID_W = sum(COL_W)
GRID_H = sum(ROW_H)
STRIP_H = HEADER_H + GRID_H

frame_left = []
acc = PAGE_X0 + STRIP_W
for j in range(6):
    frame_left.append(acc + COL_L[j])
    acc += COL_W[j]
frame_center = [f + FRAME_W / 2 for f in frame_left]

GRAY = "#7c7c7c"
TICK_COLOR = "#333333"


def style_axes(p, xticks, yticks, show_xlabels, xlabel, ylabel, y_overrides=None,
               x_fmt=None, y_fmt=None):
    p.grid.visible = False
    p.outline_line_color = GRAY
    p.outline_line_width = 1
    xa, ya = p.xaxis[0], p.yaxis[0]
    xa.ticker = FixedTicker(ticks=xticks)
    ya.ticker = FixedTicker(ticks=yticks)
    if x_fmt:
        xa.formatter = PrintfTickFormatter(format=x_fmt)
    if y_fmt:
        ya.formatter = PrintfTickFormatter(format=y_fmt)
    for ax in (xa, ya):
        ax.axis_line_color = GRAY
        ax.major_tick_line_color = GRAY
        ax.minor_tick_line_color = None
        ax.major_tick_out = 3
        ax.major_tick_in = 0
        ax.major_label_text_font = FONT
        ax.major_label_text_color = TICK_COLOR
        ax.major_label_standoff = 2
        ax.axis_label_text_font = FONT
        ax.axis_label_text_font_style = "normal"
        ax.axis_label_text_color = "#111111"
        ax.axis_label_standoff = 1
    ya.major_label_text_font_size = "8.5px"
    xa.major_label_text_font_size = "9px"
    if y_overrides:
        ya.major_label_overrides = y_overrides
    if not show_xlabels:
        xa.major_label_text_color = None
    if xlabel:
        xa.axis_label = xlabel
        xa.axis_label_text_font_size = "14px"
    if ylabel:
        ya.axis_label = ylabel
        ya.axis_label_text_font_size = "12.5px"


def new_panel(ci, ri, xmax, ymax):
    w, h = COL_W[ci], ROW_H[ri]
    return figure(width=w, height=h, x_range=Range1d(0, xmax), y_range=Range1d(0, ymax),
                  output_backend="svg", toolbar_location=None,
                  min_border_left=COL_L[ci], min_border_right=COL_R[ci],
                  min_border_top=ROW_TOP[ri], min_border_bottom=h - ROW_TOP[ri] - FRAME_H,
                  background_fill_color="white", border_fill_color="white")


def small_legend(p, items):
    lg = Legend(items=items, location="top_right")
    lg.border_line_color = None
    lg.background_fill_alpha = 0
    lg.label_text_font = FONT
    lg.label_text_font_size = "12px"
    lg.label_text_color = "#111111"
    lg.glyph_width = 21
    lg.glyph_height = 6
    lg.label_height = 12
    lg.label_standoff = 2
    lg.spacing = 1
    lg.padding = 1
    lg.margin = 4
    p.add_layout(lg)


def with_gap(pts, gs, ge):
    xs, ys, prev = [], [], None
    for x, y in pts:
        if prev is not None and prev <= gs + 1e-9 and x >= ge - 1e-9:
            xs.append(float("nan"))
            ys.append(float("nan"))
        xs.append(x)
        ys.append(y)
        prev = x
    return xs, ys


grid_rows = []

# histogram row
hist_figs = []
for ci in range(6):
    p = new_panel(ci, 0, 50, hist_ymax[ci])
    if ci == 5:
        style_axes(p, hist_xticks, hist_yticks[ci], True, hist_xlabel, None,
                   {0: "0"}, y_fmt="%.1f")
    else:
        style_axes(p, hist_xticks, hist_yticks[ci], True, hist_xlabel,
                   hist_ylabel if ci == 0 else None)
    pat, ctl = hist_data[ci]
    rp = p.vbar(x=[b - 0.45 for b in tawss_bins], top=pat, width=0.72,
                fill_color="white", line_color="#8a8a8a", line_width=1)
    rc = p.vbar(x=[b + 0.35 for b in tawss_bins], top=ctl, width=0.72,
                fill_color="black", line_color="black", line_width=0.8)
    if ci == 0:
        small_legend(p, [LegendItem(label=series_names[0], renderers=[rp]),
                         LegendItem(label=series_names[1], renderers=[rc])])
    hist_figs.append(p)
grid_rows.append(row(*hist_figs, spacing=0))

# profile rows
for li in range(4):
    ri = li + 1
    figs = []
    for ci in range(6):
        p = new_panel(ci, ri, 1, line_ymax[ci])
        last = (li == 3)
        style_axes(p, dist_xticks, line_yticks[ci], last, line_xlabel if last else None,
                   line_ylabel if ci == 0 else None, x_fmt="%.1f")
        pat, ctl = line_data[li][ci]
        if li == 1:
            gs, ge = gap_start[ci], gap_end[ci]
            for loc in (gs, ge):
                p.add_layout(Span(location=loc, dimension="height", line_color="#8f8f8f",
                                  line_dash="1 2", line_width=1))
            fr = [0.666, 0.566, 0.466, 0.366]
            p.text(x=[(gs + ge) / 2] * 4, y=[f * line_ymax[ci] for f in fr], text=gap_label,
                   text_font=value(FONT), text_font_size="9.5px", text_align="center",
                   text_baseline="middle", text_color="#333333")
            px, py = with_gap(pat, gs, ge)
            cx, cy = with_gap(ctl, gs, ge)
        else:
            px, py = [a for a, b in pat], [b for a, b in pat]
            cx, cy = [a for a, b in ctl], [b for a, b in ctl]
        rp = p.line(px, py, line_color="#505050", line_width=1.2, line_dash="4 2")
        rc = p.line(cx, cy, line_color="#2a2a2a", line_width=1.2)
        if li == 0 and ci == 0:
            small_legend(p, [LegendItem(label=series_names[0], renderers=[rp]),
                             LegendItem(label=series_names[1], renderers=[rc])])
        figs.append(p)
    grid_rows.append(row(*figs, spacing=0))

# row label strip (spans header + grid so long labels are not clipped)
strip = figure(width=STRIP_W, height=STRIP_H, x_range=Range1d(0, STRIP_W), y_range=Range1d(0, STRIP_H),
               output_backend="svg", toolbar_location=None, x_axis_location=None, y_axis_location=None,
               min_border=0, min_border_left=0, min_border_right=0, min_border_top=0, min_border_bottom=0)
strip.grid.visible = False
strip.outline_line_color = None
row_centers = []
acc = HEADER_H
for h, t in zip(ROW_H, ROW_TOP):
    row_centers.append(STRIP_H - (acc + t + FRAME_H / 2))
    acc += h
strip.text(x=[STRIP_W / 2] * 5, y=row_centers, text=row_titles, angle=math.pi / 2,
           text_font=value(FONT), text_font_size="25px", text_align="center",
           text_baseline="middle", text_color="#111111")

# header (data y measured upward from the header's bottom edge)
hx0 = PAGE_X0 + STRIP_W
hdr = figure(width=GRID_W, height=HEADER_H, x_range=Range1d(hx0, hx0 + GRID_W),
             y_range=Range1d(0, HEADER_H), output_backend="svg", toolbar_location=None,
             x_axis_location=None, y_axis_location=None,
             min_border=0, min_border_left=0, min_border_right=0, min_border_top=0, min_border_bottom=0)
hdr.grid.visible = False
hdr.outline_line_color = None
ld_words = col_titles[0].split(" ")
hdr.text(x=[frame_center[0]] * 2, y=[54, 24], text=ld_words, text_font=value(FONT),
         text_font_size="24px", text_align="center", text_baseline="middle", text_color="#111111")
hdr.text(x=frame_center[1:], y=[16] * 5, text=col_titles[1:], text_font=value(FONT),
         text_font_size="24px", text_align="center", text_baseline="middle", text_color="#111111")
brackets = [(frame_left[1] - 2, frame_left[2] + FRAME_W), (frame_left[3] + 2, frame_left[5] + FRAME_W)]
for (x0, x1), title in zip(brackets, group_titles):
    hdr.line([x0, x0, x1, x1], [28, 38, 38, 28], line_color="black", line_width=3)
    hdr.text(x=[(x0 + x1) / 2], y=[55], text=[title], text_font=value(FONT), text_font_size="24px",
             text_align="center", text_baseline="middle", text_color="#111111")

right_side = column(hdr, *grid_rows, spacing=0)
page = row(strip, right_side, spacing=0)

open("out.html", "w").write(file_html(page, INLINE, title="TAWSS"))
